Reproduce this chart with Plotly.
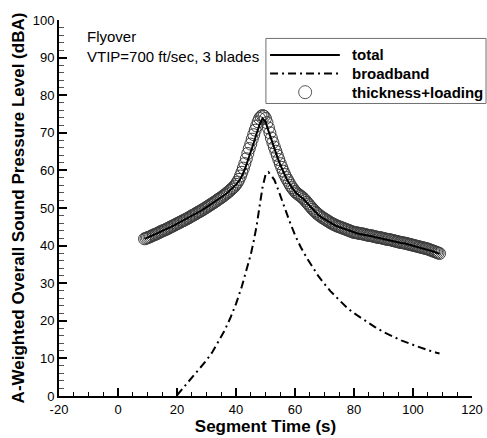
import plotly.graph_objects as go

# Segment times (s) for the total prediction
seg_time = list(range(9, 110))

# Total A-weighted OASPL (dBA)
total_dba = [
    41.8, 42.1, 42.4, 42.8, 43.1, 43.5, 43.9, 44.2, 44.6, 45.0,   # 9-18
    45.4, 45.8, 46.2, 46.6, 47.0, 47.4, 47.9, 48.3, 48.8, 49.2,   # 19-28
    49.7, 50.2, 50.7, 51.2, 51.7, 52.3, 52.8, 53.4, 54.0, 54.7,   # 29-38
    55.4, 56.2, 57.2, 58.5, 60.3, 62.5, 65.0, 67.3, 69.8, 72.2,   # 39-48
    73.8, 73.0, 70.5, 68.0, 65.8, 63.6, 61.5, 59.6, 58.0, 56.6,   # 49-58
    55.3, 54.3, 53.6, 53.0, 52.3, 51.4, 50.5, 49.6, 48.8, 48.1,   # 59-68
    47.5, 47.0, 46.5, 46.0, 45.6, 45.2, 44.9, 44.6, 44.3, 44.0,   # 69-78
    43.7, 43.4, 43.3, 43.1, 43.0, 42.8, 42.6, 42.5, 42.3, 42.1,   # 79-88
    42.0, 41.8, 41.6, 41.5, 41.3, 41.1, 40.9, 40.7, 40.6, 40.4,   # 89-98
    40.2, 40.0, 39.8, 39.6, 39.4, 39.2, 39.0, 38.7, 38.4, 38.1,   # 99-108
    37.8,                                                         # 109
]

# Segment times (s) for the thickness+loading prediction, every 0.5 s
tl_time = [t / 2 for t in range(18, 219)]

# Thickness + loading noise (dBA)
thick_load_dba = [
    41.8, 41.95, 42.1, 42.25, 42.4, 42.6, 42.8, 42.95, 43.1, 43.3,    # 9-13.5
    43.5, 43.7, 43.9, 44.05, 44.2, 44.4, 44.6, 44.8, 45.0, 45.2,      # 14-18.5
    45.4, 45.6, 45.8, 46.0, 46.2, 46.4, 46.6, 46.8, 47.0, 47.2,       # 19-23.5
    47.4, 47.65, 47.9, 48.1, 48.3, 48.55, 48.8, 49.0, 49.2, 49.45,    # 24-28.5
    49.7, 49.95, 50.2, 50.45, 50.7, 50.95, 51.2, 51.45, 51.7, 52.0,   # 29-33.5
    52.3, 52.55, 52.8, 53.1, 53.4, 53.7, 54.0, 54.35, 54.7, 55.05,    # 34-38.5
    55.4, 55.8, 56.3, 56.9, 57.6, 58.5, 59.5, 60.6, 61.8, 63.1,       # 39-43.5
    64.5, 65.8, 67.0, 68.3, 69.5, 70.7, 71.8, 72.9, 73.8, 74.3,       # 44-48.5
    74.6, 74.4, 73.8, 72.7, 71.3, 70.0, 68.6, 67.4, 66.2, 65.1,       # 49-53.5
    64.0, 62.9, 61.8, 60.8, 59.8, 58.9, 58.1, 57.4, 56.7, 56.0,       # 54-58.5
    55.4, 54.9, 54.4, 54.0, 53.7, 53.4, 53.1, 52.8, 52.4, 52.0,       # 59-63.5
    51.5, 51.05, 50.6, 50.15, 49.7, 49.3, 48.9, 48.55, 48.2, 47.9,    # 64-68.5
    47.6, 47.35, 47.1, 46.85, 46.6, 46.35, 46.1, 45.9, 45.7, 45.5,    # 69-73.5
    45.3, 45.15, 45.0, 44.85, 44.7, 44.55, 44.4, 44.25, 44.1, 43.95,  # 74-78.5
    43.8, 43.65, 43.5, 43.45, 43.4, 43.3, 43.2, 43.15, 43.1, 43.0,    # 79-83.5
    42.9, 42.8, 42.7, 42.65, 42.6, 42.5, 42.4, 42.3, 42.2, 42.15,     # 84-88.5
    42.1, 42.0, 41.9, 41.8, 41.7, 41.65, 41.6, 41.5, 41.4, 41.3,      # 89-93.5
    41.2, 41.1, 41.0, 40.9, 40.8, 40.75, 40.7, 40.6, 40.5, 40.4,      # 94-98.5
    40.3, 40.2, 40.1, 40.0, 39.9, 39.8, 39.7, 39.6, 39.5, 39.4,       # 99-103.5
    39.3, 39.2, 39.1, 38.95, 38.8, 38.65, 38.5, 38.35, 38.2, 38.05,   # 104-108.5
    37.9,                                                             # 109
]

# Broadband noise (dBA)
bb_time = [20, 22, 24, 26, 28, 30, 32, 34, 36, 38, 40, 42, 44, 45, 46, 47,
           48, 49, 50, 51, 52, 53, 54, 55, 56, 58, 60, 62, 64, 66, 68, 70,
           72, 75, 78, 81, 84, 87, 90, 93, 96, 99, 102, 105, 108, 109]
bb_dba = [0.2, 2.0, 3.8, 5.7, 7.6, 9.5, 11.7, 14.3, 17.2, 20.6, 24.5, 29.2,
          34.5, 37.6, 41.2, 45.3, 50.5, 55.5, 58.8, 59.5, 58.6, 57.5, 55.5,
          53.3, 51.0, 46.8, 42.8, 39.5, 36.7, 34.2, 31.8, 29.8, 27.9, 25.5,
          23.2, 21.5, 19.9, 18.4, 17.0, 15.8, 14.8, 13.9, 13.0, 12.2, 11.5,
          11.3]

x_ticks = [-20, 0, 20, 40, 60, 80, 100, 120]
y_ticks = [0, 10, 20, 30, 40, 50, 60, 70, 80, 90, 100]

FONT = "Liberation Sans, Arial, Helvetica, sans-serif"
DASHDOT = "8px,4px,2px,4px"

fig = go.Figure()

fig.add_trace(go.Scatter(
    x=tl_time, y=thick_load_dba, mode="markers", name="thickness+loading",
    marker=dict(symbol="circle-open", size=12, color="#3c3c3c",
                line=dict(width=1, color="#3c3c3c")),
))
fig.add_trace(go.Scatter(
    x=seg_time, y=total_dba, mode="lines", name="total",
    line=dict(color="black", width=2),
))
fig.add_trace(go.Scatter(
    x=bb_time, y=bb_dba, mode="lines", name="broadband",
    line=dict(color="black", width=2, dash=DASHDOT),
))

# Legend box drawn with shapes and text
shapes = [
    dict(type="rect", xref="paper", yref="paper", x0=0.501, x1=1.034,
         y0=0.778, y1=0.951, line=dict(color="#707070", width=1),
         fillcolor="white", layer="above"),
    dict(type="line", xref="paper", yref="paper", x0=0.511, x1=0.680,
         y0=0.907, y1=0.907, line=dict(color="black", width=2), layer="above"),
    dict(type="line", xref="paper", yref="paper", x0=0.511, x1=0.680,
         y0=0.858, y1=0.858, line=dict(color="black", width=2, dash=DASHDOT),
         layer="above"),
    dict(type="circle", xref="paper", yref="paper", xsizemode="pixel",
         ysizemode="pixel", xanchor=0.596, yanchor=0.808, x0=-6.5, x1=6.5,
         y0=-6.5, y1=6.5, line=dict(color="#555555", width=1), layer="above"),
]

annotations = [
    dict(text="Flyover", xref="paper", yref="paper", x=0.062, y=0.955,
         xanchor="left", yanchor="middle", showarrow=False,
         font=dict(family=FONT, size=15, color="black")),
    dict(text="VTIP=700 ft/sec, 3 blades", xref="paper", yref="paper",
         x=0.062, y=0.904, xanchor="left", yanchor="middle", showarrow=False,
         font=dict(family=FONT, size=15, color="black")),
]
for label, ypos in [("total", 0.907), ("broadband", 0.858),
                    ("thickness+loading", 0.808)]:
    annotations.append(dict(
        text="<b>%s</b>" % label, xref="paper", yref="paper", x=0.705,
        y=ypos, xanchor="left", yanchor="middle", showarrow=False,
        font=dict(family=FONT, size=15, color="black")))

fig.update_layout(
    width=487, height=438,
    margin=dict(l=59, r=15, t=20, b=42, pad=0),
    paper_bgcolor="white", plot_bgcolor="white",
    showlegend=False,
    font=dict(family=FONT, size=13, color="black"),
    shapes=shapes, annotations=annotations,
    xaxis=dict(
        range=[-20, 120], tickvals=x_ticks, ticktext=[str(v) for v in x_ticks],
        automargin=False,
        showgrid=False, zeroline=False, showline=True, linecolor="black",
        linewidth=2, ticks="inside", ticklen=8, tickwidth=2, tickcolor="black",
        minor=dict(ticks="inside", dtick=5, ticklen=4, tickwidth=1,
                   tickcolor="black", showgrid=False),
        tickfont=dict(family=FONT, size=13),
        title=dict(text="<b>Segment Time (s)</b>", standoff=1,
                   font=dict(family=FONT, size=17)),
    ),
    yaxis=dict(
        range=[0, 100], tickvals=y_ticks, ticktext=[str(v) for v in y_ticks],
        automargin=False,
        showgrid=False, zeroline=False, showline=True, linecolor="black",
        linewidth=2, ticks="inside", ticklen=8, tickwidth=2, tickcolor="black",
        minor=dict(ticks="inside", dtick=2, ticklen=5, tickwidth=1,
                   tickcolor="#555555", showgrid=False),
        tickfont=dict(family=FONT, size=13),
        title=dict(text="<b>A-Weighted Overall Sound Pressure Level (dBA)</b>",
                   standoff=4, font=dict(family=FONT, size=17)),
    ),
)

fig.write_html("out.html")
